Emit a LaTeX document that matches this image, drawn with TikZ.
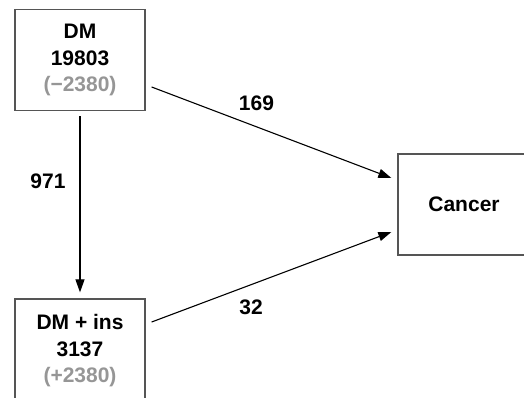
\documentclass[tikz,border=0pt]{standalone}
\usepackage{fontspec}
\setmainfont{Liberation Sans}
\usetikzlibrary{arrows.meta}
\definecolor{boxline}{RGB}{85,85,85}
\definecolor{subgrey}{RGB}{150,150,150}
\tikzset{
  box/.style={draw=boxline, line width=1.3pt, align=center, inner sep=0pt,
    font=\fontsize{21}{26.5}\selectfont\bfseries},
  flow/.style={draw=black, line width=1.1pt, -{Triangle[length=13pt,width=9pt]}},
  lbl/.style={font=\fontsize{21}{25}\selectfont\bfseries, inner sep=0pt}
}
\begin{document}
\begin{tikzpicture}[x=1pt,y=-1pt]
\useasboundingbox (0,0) rectangle (524,398);
\clip (0,0) rectangle (524,398);
\node[box, minimum width=130pt, minimum height=101pt] (dm) at (80,60)
  {DM\\19803\\\textcolor{subgrey}{(−2380)}};
\node[box, minimum width=130pt, minimum height=104pt] (ins) at (80,351)
  {DM + ins\\3137\\\textcolor{subgrey}{(+2380)}};
\node[box, minimum width=132pt, minimum height=101pt] (cancer) at (464,204.5) {Cancer};
\draw[flow] ([shift={(6pt,-27pt)}]dm.east) -- ([shift={(-6pt,26.5pt)}]cancer.west);
\draw[flow] ([shift={(6pt,29pt)}]ins.east) -- ([shift={(-6pt,-27.5pt)}]cancer.west);
\draw[flow] ([yshift=-5pt]dm.south) -- ([yshift=6pt]ins.north);
\node[lbl] (l169) at (256.5,103) {169};
\node[lbl] (l32) at (251,307) {32};
\node[lbl] (l971) at (48,181) {971};
\end{tikzpicture}
\end{document}
